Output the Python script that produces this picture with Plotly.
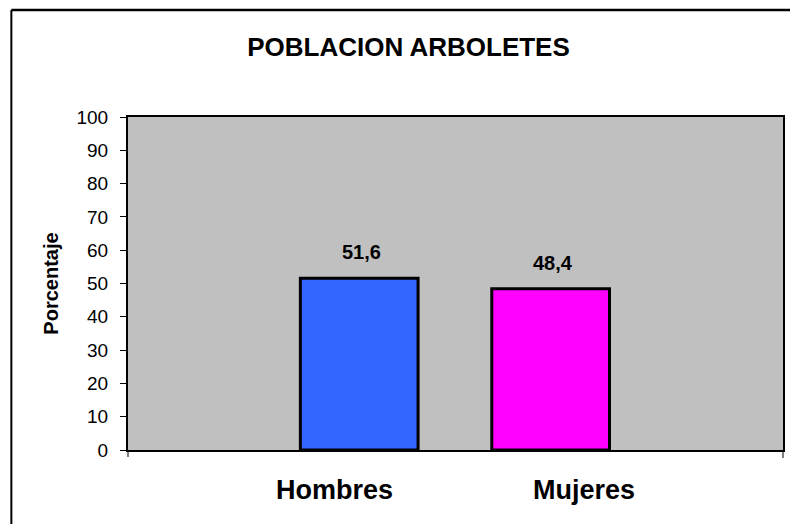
import plotly.graph_objects as go

categories = ["Hombres", "Mujeres"]
values = [51.6, 48.4]
bar_colors = ["#3366FF", "#FF00FF"]
y_ticks = list(range(0, 101, 10))
title_text = "POBLACION ARBOLETES"
y_title = "Porcentaje"

FONT = "Liberation Sans, Arial, sans-serif"
W, H = 790, 524
L, R, T, B = 128, 5, 117, 74
PW, PH = W - L - R, H - T - B

def px_x(p):
    return (p - L) / PW

def px_y(p):
    return (H - B - p) / PH

fig = go.Figure()
fig.add_trace(go.Bar(
    x=categories, y=values,
    marker=dict(color=bar_colors, line=dict(color="black", width=3)),
    width=0.615,
    showlegend=False,
    hoverinfo="x+y",
))

annotations = []
for c, v in zip(categories, values):
    annotations.append(dict(
        x=c, y=v, xref="x", yref="y", text=f"<b>{v:.1f}</b>".replace(".", ","),
        showarrow=False, yanchor="bottom", yshift=13, xshift=2,
        font=dict(family=FONT, size=20, color="black"),
    ))
label_shifts = [-25, 33]
for c, s in zip(categories, label_shifts):
    annotations.append(dict(
        x=c, y=px_y(490), xref="x", yref="paper", text=f"<b>{c}</b>",
        showarrow=False, yanchor="middle", xshift=s,
        font=dict(family=FONT, size=27, color="black"),
    ))

shapes = [
    # outer chart border (top and left)
    dict(type="line", xref="paper", yref="paper", x0=px_x(11), x1=px_x(W + 5),
         y0=px_y(10), y1=px_y(10), line=dict(color="black", width=2.5)),
    dict(type="line", xref="paper", yref="paper", x0=px_x(11), x1=px_x(11),
         y0=px_y(10), y1=px_y(H + 5), line=dict(color="black", width=2)),
    # x-axis end ticks
    dict(type="line", xref="paper", yref="paper", x0=0, x1=0,
         y0=0, y1=px_y(457), line=dict(color="black", width=1)),
    dict(type="line", xref="paper", yref="paper", x0=1, x1=1,
         y0=0, y1=px_y(458), line=dict(color="black", width=1)),
]

fig.update_layout(
    width=W, height=H,
    margin=dict(l=L, r=R, t=T, b=B, pad=0),
    paper_bgcolor="white",
    plot_bgcolor="#C0C0C0",
    title=dict(text=f"<b>{title_text}</b>", x=408.5 / W, y=1 - 47 / H,
               xref="container", yref="container",
               xanchor="center", yanchor="middle",
               font=dict(family=FONT, size=26, color="black")),
    xaxis=dict(
        type="category", range=[-1.208, 2.214],
        showticklabels=False, ticks="", showgrid=False,
        showline=True, linecolor="black", linewidth=2, mirror=True,
        zeroline=False, fixedrange=True,
    ),
    yaxis=dict(
        range=[0, 100], tickvals=y_ticks, ticks="outside", ticklen=6,
        tickcolor="black", tickwidth=1, ticklabelstandoff=8,
        tickfont=dict(family=FONT, size=19, color="black"),
        showgrid=False, zeroline=False,
        showline=True, linecolor="black", linewidth=2, mirror=True,
        title=dict(text=f"<b>{y_title}</b>", standoff=12,
                   font=dict(family=FONT, size=20, color="black")),
        fixedrange=True,
    ),
    annotations=annotations,
    shapes=shapes,
    bargap=0.3,
)

fig.write_html(
    "out.html",
    config={"displayModeBar": False},
    post_script="document.body.style.margin='0';document.body.style.overflow='hidden';",
)
